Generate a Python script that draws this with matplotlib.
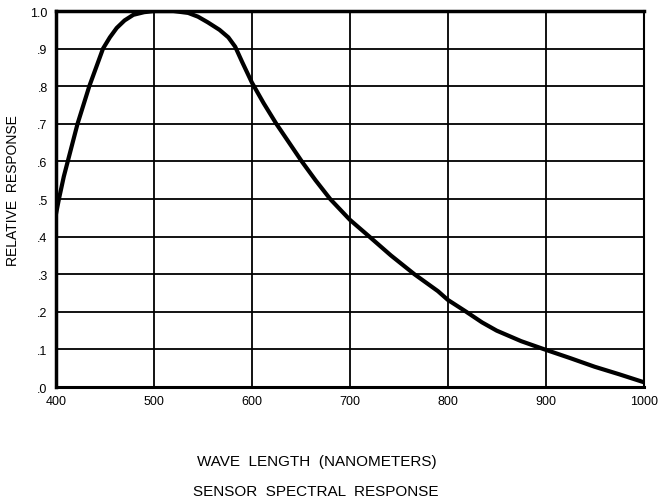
import matplotlib
matplotlib.use("Agg")
import matplotlib.pyplot as plt

wavelength = [400, 403, 408, 412, 417, 422, 428, 434, 441, 448, 455, 462, 470, 479, 490, 500,
              520, 535, 545, 555, 567, 576, 583, 590, 600, 612, 625, 638, 651, 665, 680, 700,
              720, 742, 766, 790, 800, 819, 835, 850, 875, 899, 925, 950, 975, 1000]
response = [0.46, 0.50, 0.56, 0.60, 0.65, 0.70, 0.75, 0.80, 0.85, 0.90, 0.93, 0.955, 0.975, 0.99, 0.997, 1.00,
            1.00, 0.995, 0.985, 0.97, 0.95, 0.93, 0.905, 0.865, 0.81, 0.755, 0.70, 0.65, 0.60, 0.55, 0.50, 0.445,
            0.40, 0.35, 0.30, 0.255, 0.232, 0.20, 0.172, 0.150, 0.122, 0.10, 0.077, 0.054, 0.034, 0.013]
x_ticks = [400, 500, 600, 700, 800, 900, 1000]
y_ticks = [0.0, 0.1, 0.2, 0.3, 0.4, 0.5, 0.6, 0.7, 0.8, 0.9, 1.0]
y_labels = [".0", ".1", ".2", ".3", ".4", ".5", ".6", ".7", ".8", ".9", "1.0"]

plt.rcParams['font.family'] = ['Liberation Sans', 'DejaVu Sans']

fig = plt.figure(figsize=(6.61, 5.02), dpi=100)
ax = fig.add_axes([0.0847, 0.227, 0.889, 0.749])
ax.plot(wavelength, response, color='black', lw=3.0, solid_capstyle='round', solid_joinstyle='round', zorder=3)
ax.set_xlim(400, 1000)
ax.set_ylim(0, 1.0)
ax.set_xticks(x_ticks)
ax.set_xticklabels([str(v) for v in x_ticks])
ax.set_yticks(y_ticks)
ax.set_yticklabels(y_labels)
ax.grid(True, color='black', lw=1.3)
ax.tick_params(length=0, labelsize=9, pad=6)
for s in ax.spines.values():
    s.set_linewidth(1.5)
ax.spines['left'].set_linewidth(2.5)
ax.spines['top'].set_linewidth(2.5)
ax.spines['bottom'].set_linewidth(2.2)
fig.text(0.02, 0.62, "RELATIVE  RESPONSE", rotation=90, ha='center', va='center', fontsize=10)
fig.text(0.48, 0.08, "WAVE  LENGTH  (NANOMETERS)", ha='center', va='center', fontsize=11)
fig.text(0.478, 0.02, "SENSOR  SPECTRAL  RESPONSE", ha='center', va='center', fontsize=11)
fig.savefig("out.png", dpi=100)
